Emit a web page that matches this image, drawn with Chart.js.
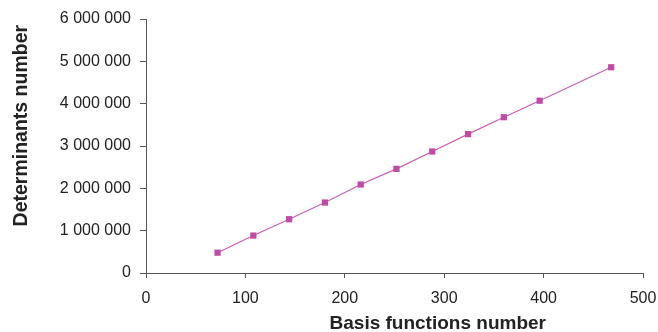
<!DOCTYPE html>
<html>
<head>
<meta charset="utf-8">
<script src="https://cdn.jsdelivr.net/npm/chart.js@4/dist/chart.umd.min.js"></script>
<style>
  html, body { margin: 0; padding: 0; background: #ffffff; }
  #wrap { width: 658px; height: 332px; position: relative; }
</style>
</head>
<body>
<div id="wrap"><canvas id="c" width="658" height="332"></canvas></div>
<script>
// Data
const basisFunctions = [72, 108, 144, 180, 216, 252, 288, 324, 360, 396, 468];
const determinants = [480000, 884000, 1270000, 1665000, 2090000, 2460000, 2870000, 3280000, 3680000, 4070000, 4860000];
const xTickValues = [0, 100, 200, 300, 400, 500];
const yTickValues = [0, 1000000, 2000000, 3000000, 4000000, 5000000, 6000000];
const xTitle = 'Basis functions number';
const yTitle = 'Determinants number';

function fmtSpace(v) {
  return String(v).replace(/\B(?=(\d{3})+(?!\d))/g, ' ');
}

const points = basisFunctions.map((x, i) => ({ x: x, y: determinants[i] }));
const axisColor = '#555555';
const textColor = '#222222';
const fontFamily = '"Liberation Sans", Arial, Helvetica, sans-serif';

// Axis titles drawn as real text, placed as in the reference
const axisTitles = {
  id: 'axisTitles',
  afterDraw(chart) {
    const ctx = chart.ctx;
    const ca = chart.chartArea;
    ctx.save();
    ctx.fillStyle = textColor;
    ctx.font = 'bold 19px ' + fontFamily;
    ctx.textAlign = 'center';
    ctx.textBaseline = 'middle';
    ctx.fillText(xTitle, ca.left + (ca.right - ca.left) * 0.587, 324);
    ctx.font = 'bold 19.5px ' + fontFamily;
    ctx.translate(22, ca.top + (ca.bottom - ca.top) * 0.42);
    ctx.rotate(-Math.PI / 2);
    ctx.fillText(yTitle, 0, 0);
    ctx.restore();
  }
};

new Chart(document.getElementById('c'), {
  type: 'scatter',
  data: {
    datasets: [{
      data: points,
      showLine: true,
      borderColor: '#cc5db0',
      borderWidth: 1.2,
      pointStyle: 'rect',
      pointRadius: 4.4,
      pointBackgroundColor: '#c04aa4',
      pointBorderColor: '#c04aa4',
      pointBorderWidth: 0,
      tension: 0
    }]
  },
  plugins: [axisTitles],
  options: {
    responsive: false,
    animation: false,
    devicePixelRatio: 1,
    layout: { padding: { left: 46, right: 15, top: 19, bottom: 0 } },
    plugins: { legend: { display: false }, tooltip: { enabled: false } },
    scales: {
      x: {
        type: 'linear',
        min: 0, max: 500,
        afterBuildTicks: (s) => { s.ticks = xTickValues.map(v => ({ value: v })); },
        afterFit: (s) => { s.height = 59; s.paddingLeft = 0; s.paddingRight = 0; },
        border: { display: true, color: axisColor, width: 1 },
        grid: { display: true, drawOnChartArea: false, drawTicks: true, tickLength: 5, color: axisColor, lineWidth: 1 },
        ticks: { color: textColor, font: { family: fontFamily, size: 16 }, padding: 11, maxRotation: 0, callback: (v) => String(v) },
        title: { display: false }
      },
      y: {
        type: 'linear',
        min: 0, max: 6000000,
        afterBuildTicks: (s) => { s.ticks = yTickValues.map(v => ({ value: v })); },
        afterFit: (s) => { s.width = 100; s.paddingTop = 0; s.paddingBottom = 0; },
        border: { display: true, color: axisColor, width: 1 },
        grid: { display: true, drawOnChartArea: false, drawTicks: true, tickLength: 6, color: axisColor, lineWidth: 1 },
        ticks: { color: textColor, font: { family: fontFamily, size: 16 }, padding: 9, callback: (v) => fmtSpace(v) },
        title: { display: false }
      }
    }
  }
});
</script>
</body>
</html>
